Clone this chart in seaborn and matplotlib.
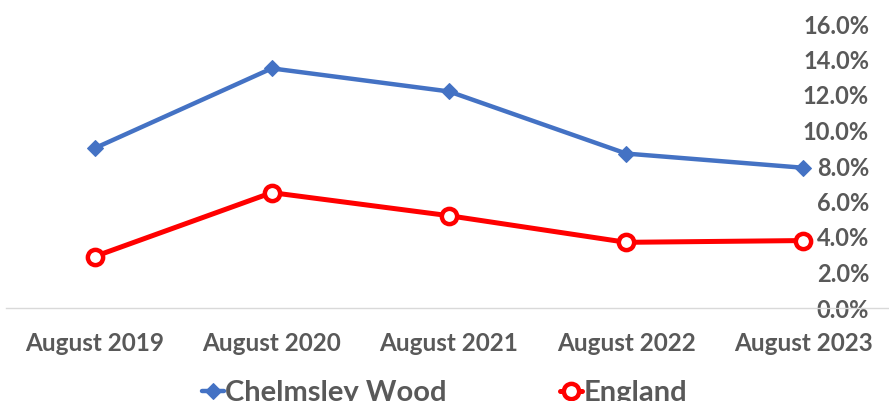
import matplotlib
matplotlib.use("Agg")
import matplotlib.pyplot as plt
import matplotlib.ticker as mticker
import seaborn as sns
import pandas as pd

# data (share of people, as fractions)
months = ["August 2019", "August 2020", "August 2021", "August 2022", "August 2023"]
chelmsley_wood = [0.090, 0.135, 0.122, 0.087, 0.079]
england = [0.029, 0.065, 0.052, 0.037, 0.038]
yticks = [0.0, 0.02, 0.04, 0.06, 0.08, 0.10, 0.12, 0.14, 0.16]

BLUE = "#4472C4"
RED = "#FF0000"
GREY = "#595959"

df = pd.DataFrame({
    "month": months * 2,
    "value": chelmsley_wood + england,
    "area": ["Chelmsley Wood"] * len(months) + ["England"] * len(months),
})

sns.set_theme(style="white")
plt.rcParams["font.family"] = ["Lato", "DejaVu Sans"]

W, H = 889, 401
fig = plt.figure(figsize=(W / 100, H / 100), dpi=100)
ax = fig.add_axes([6 / W, 1 - 308 / H, 886 / W, 284 / H])

sns.lineplot(data=df[df["area"] == "Chelmsley Wood"], x="month", y="value",
             color=BLUE, linewidth=3.2, marker="D", markersize=8,
             markeredgecolor=BLUE, sort=False, ax=ax, label="Chelmsley Wood")
sns.lineplot(data=df[df["area"] == "England"], x="month", y="value",
             color=RED, linewidth=3.6, marker="o", markersize=11,
             markerfacecolor="white", markeredgecolor=RED, markeredgewidth=3.2,
             sort=False, ax=ax, label="England")

ax.set_xlim(-0.5, len(months) - 0.5)
ax.set_ylim(0, 0.16)
ax.set_yticks(yticks)
ax.yaxis.set_major_formatter(mticker.PercentFormatter(1.0, decimals=1))
ax.yaxis.tick_right()
ax.tick_params(axis="y", length=0, pad=-16.5, labelsize=17, labelcolor=GREY)
for lbl in ax.get_yticklabels():
    lbl.set_horizontalalignment("right")
    lbl.set_fontweight("bold")
ax.tick_params(axis="x", length=0, pad=17, labelsize=17.5, labelcolor=GREY)
for lbl in ax.get_xticklabels():
    lbl.set_fontweight("bold")
ax.set_xlabel("")
ax.set_ylabel("")
for side in ["top", "left", "right"]:
    ax.spines[side].set_visible(False)
ax.spines["bottom"].set_color("#D9D9D9")
ax.spines["bottom"].set_linewidth(1)
ax.grid(False)

ax.get_legend().remove()
handles, labels = ax.get_legend_handles_labels()
leg = fig.legend(handles, labels, loc="center", bbox_to_anchor=(0.5, 1 - 393 / H),
                 ncol=2, frameon=False, handlelength=0.75, handletextpad=0.05,
                 columnspacing=3.9, prop={"weight": "bold", "size": 21})
for t in leg.get_texts():
    t.set_color(GREY)

fig.savefig("out.png", dpi=100)
